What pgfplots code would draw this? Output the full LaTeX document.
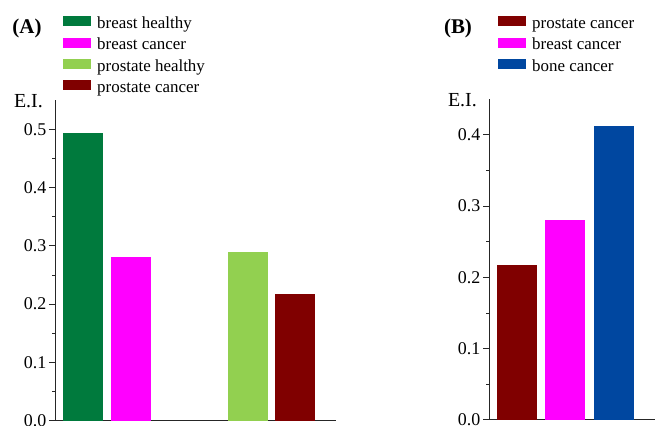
\documentclass[border=0pt]{standalone}
\usepackage{fontspec}
\setmainfont{Liberation Serif}
\usepackage{pgfplots}
\pgfplotsset{compat=1.18}
\definecolor{cBH}{RGB}{0,122,61}
\definecolor{cBC}{RGB}{255,0,255}
\definecolor{cPH}{RGB}{146,208,80}
\definecolor{cPC}{RGB}{128,0,0}
\definecolor{cBO}{RGB}{0,71,160}
\pgfplotsset{
  panel/.style={
    scale only axis, clip=false,
    axis x line=bottom, axis y line=left,
    axis line style={-, line width=1bp, black!85},
    ymin=0,
    xtick=\empty,
    tick align=outside,
    major tick length=6bp, minor tick length=3bp,
    minor y tick num=1,
    every tick/.style={black!85, line width=0.8bp},
    tick label style={font=\fontsize{18}{20}\selectfont},
    yticklabel style={inner sep=2.5bp},
    /pgf/number format/assume math mode=true,
    yticklabel style={/pgf/number format/fixed, /pgf/number format/fixed zerofill, /pgf/number format/precision=1},
    legend image code/.code={\fill[##1] (0bp,-2bp) rectangle (28bp,8bp);},
    legend cell align=left,
    legend style={draw=none, fill=none, inner sep=0pt, row sep=5.4bp, column sep=6bp,
      font=\fontsize{17}{19}\selectfont,
      nodes={inner sep=0pt, text height=12bp, text depth=4bp},
      at={(0,1)}, anchor=north west},
  },
  bars/.style={ybar, bar shift=0pt, bar width=40, draw=none, fill=#1},
}
\begin{document}
\begin{tikzpicture}[x=1bp,y=1bp]
\path[use as bounding box] (0,0) rectangle (655,425);
% Panel A
\begin{axis}[panel,
  at={(55,7.3)}, anchor=south west,
  width=280.6bp, height=320.7bp,
  xmin=55, xmax=335.6, ymax=0.55,
  ytick={0,0.1,0.2,0.3,0.4,0.5},
  legend style={xshift=8bp, yshift=84bp},
]
\addplot[bars=cBH] coordinates {(83,0.493)};
\addlegendentry{breast healthy}
\addplot[bars=cBC] coordinates {(130.5,0.280)};
\addlegendentry{breast cancer}
\addplot[bars=cPH] coordinates {(247.5,0.290)};
\addlegendentry{prostate healthy}
\addplot[bars=cPC] coordinates {(294.5,0.218)};
\addlegendentry{prostate cancer}
\node[anchor=east, inner sep=0pt, font=\fontsize{20}{22}\selectfont] at ([xshift=-12bp, yshift=-1bp]rel axis cs:0,1) {E.I.};
\end{axis}
% Panel B
\begin{axis}[panel,
  at={(489,7.3)}, anchor=south west,
  width=166bp, height=320.7bp,
  xmin=489, xmax=655, ymax=0.45,
  ytick={0,0.1,0.2,0.3,0.4},
  legend style={xshift=9bp, yshift=83bp},
]
\addplot[bars=cPC] coordinates {(517,0.217)};
\addlegendentry{prostate cancer}
\addplot[bars=cBC] coordinates {(565,0.280)};
\addlegendentry{breast cancer}
\addplot[bars=cBO] coordinates {(613.5,0.412)};
\addlegendentry{bone cancer}
\node[anchor=east, inner sep=0pt, font=\fontsize{20}{22}\selectfont] at ([xshift=-12bp, yshift=-1bp]rel axis cs:0,1) {E.I.};
\end{axis}
\node[font=\bfseries\fontsize{21}{23}\selectfont] at (27,397) {(A)};
\node[font=\bfseries\fontsize{21}{23}\selectfont] at (458,397) {(B)};
\end{tikzpicture}
\end{document}
